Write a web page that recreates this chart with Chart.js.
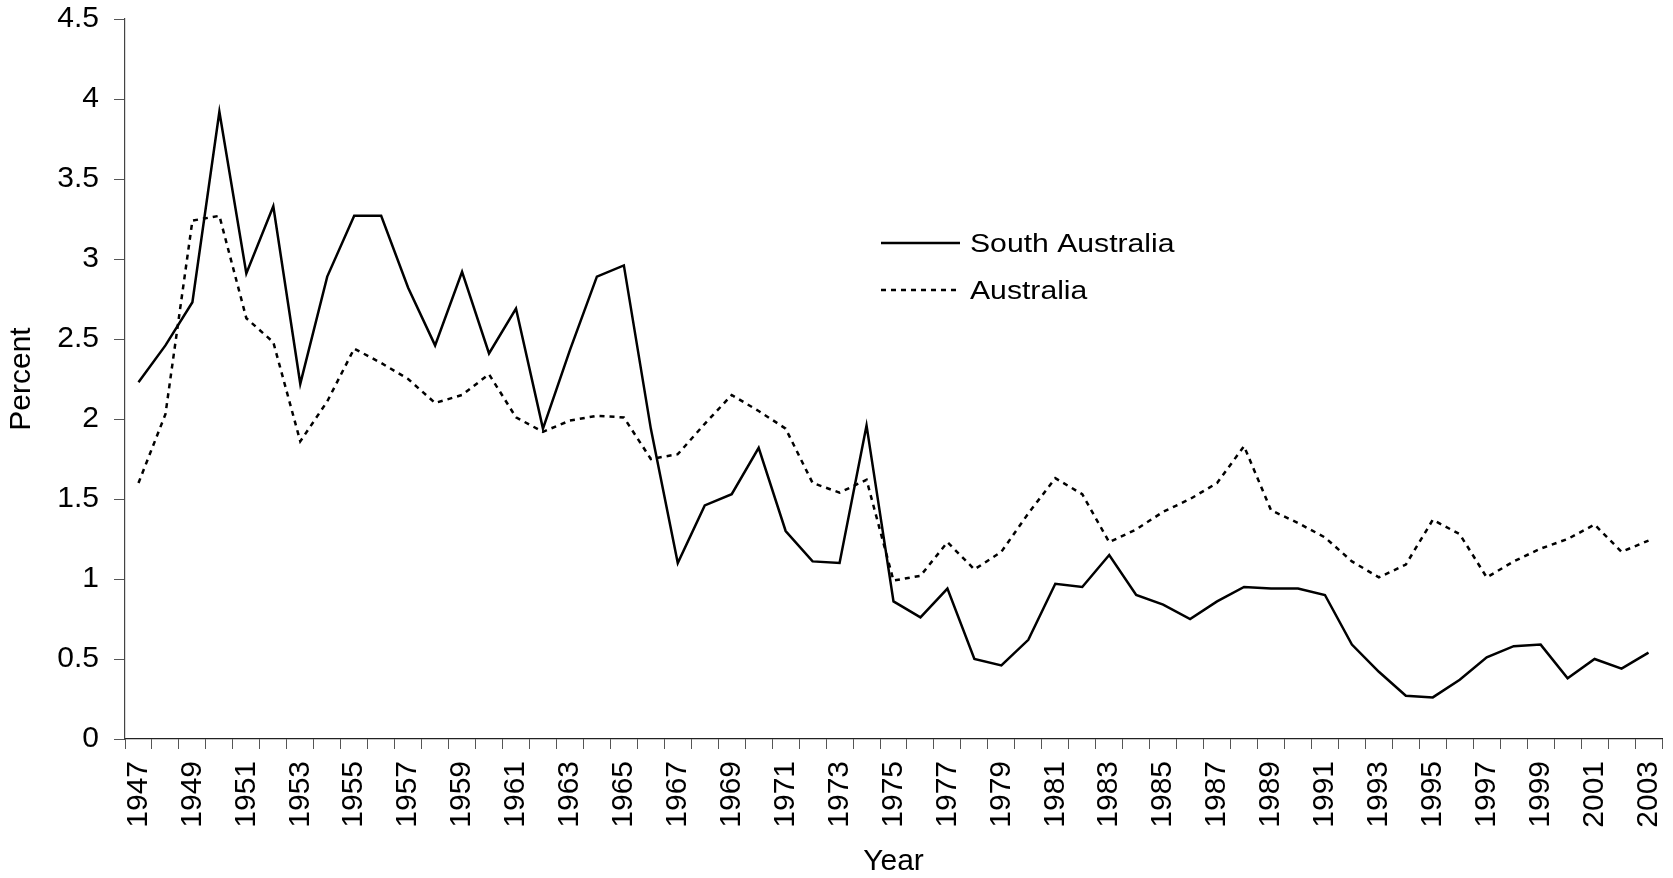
<!DOCTYPE html>
<html>
<head>
<meta charset="utf-8">
<script src="https://cdn.jsdelivr.net/npm/chart.js@4/dist/chart.umd.min.js"></script>
<style>
  html, body { margin: 0; padding: 0; background: #fff; }
  #wrap { width: 1673px; height: 878px; }
</style>
</head>
<body>
<div id="wrap"><canvas id="chart" width="1673" height="878"></canvas></div>
<script>
// years 1947 - 2003
const years = [
  1947, 1948, 1949, 1950, 1951, 1952, 1953, 1954, 1955, 1956,
  1957, 1958, 1959, 1960, 1961, 1962, 1963, 1964, 1965, 1966,
  1967, 1968, 1969, 1970, 1971, 1972, 1973, 1974, 1975, 1976,
  1977, 1978, 1979, 1980, 1981, 1982, 1983, 1984, 1985, 1986,
  1987, 1988, 1989, 1990, 1991, 1992, 1993, 1994, 1995, 1996,
  1997, 1998, 1999, 2000, 2001, 2002, 2003
];

const southAustralia = [
  2.23, 2.46, 2.73, 3.92, 2.91, 3.33, 2.22, 2.89, 3.27, 3.27,
  2.82, 2.46, 2.92, 2.41, 2.69, 1.94, 2.43, 2.89, 2.96, 1.94,
  1.10, 1.46, 1.53, 1.82, 1.30, 1.11, 1.10, 1.96, 0.86, 0.76,
  0.94, 0.50, 0.46, 0.62, 0.97, 0.95, 1.15, 0.90, 0.84, 0.75,
  0.86, 0.95, 0.94, 0.94, 0.90, 0.59, 0.42, 0.27, 0.26, 0.37,
  0.51, 0.58, 0.59, 0.38, 0.50, 0.44, 0.54
];

const australia = [
  1.60, 2.03, 3.24, 3.27, 2.63, 2.48, 1.86, 2.11, 2.44, 2.35,
  2.25, 2.10, 2.15, 2.28, 2.01, 1.92, 1.99, 2.02, 2.01, 1.75,
  1.78, 1.97, 2.15, 2.05, 1.94, 1.60, 1.54, 1.62, 0.99, 1.02,
  1.23, 1.06, 1.17, 1.41, 1.63, 1.53, 1.23, 1.31, 1.42, 1.50,
  1.60, 1.83, 1.43, 1.35, 1.26, 1.11, 1.01, 1.09, 1.37, 1.28,
  1.01, 1.11, 1.19, 1.25, 1.34, 1.17, 1.24
];

const FONT = 'Liberation Sans, Arial, sans-serif';

// legend drawn inside the plot, like the original
const legendInside = {
  id: 'legendInside',
  afterDraw(chart) {
    const ctx = chart.ctx;
    const rows = [{ y: 243 }, { y: 290 }];
    chart.data.datasets.forEach((ds, i) => {
      const y = rows[i].y;
      ctx.save();
      ctx.strokeStyle = ds.borderColor;
      ctx.lineWidth = ds.borderWidth;
      ctx.setLineDash(ds.borderDash || []);
      ctx.beginPath();
      ctx.moveTo(881, y);
      ctx.lineTo(960, y);
      ctx.stroke();
      ctx.restore();

      ctx.save();
      ctx.fillStyle = '#000';
      ctx.font = '26px ' + FONT;
      ctx.textBaseline = 'alphabetic';
      ctx.translate(970, y + 9);
      ctx.scale(1.16, 1);
      ctx.fillText(ds.label, 0, 0);
      ctx.restore();
    });
  }
};

new Chart(document.getElementById('chart'), {
  type: 'line',
  data: {
    labels: years,
    datasets: [
      {
        label: 'South Australia',
        data: southAustralia,
        borderColor: '#000',
        borderWidth: 2.5,
        pointRadius: 0,
        tension: 0,
        fill: false
      },
      {
        label: 'Australia',
        data: australia,
        borderColor: '#000',
        borderWidth: 2.5,
        borderDash: [5, 5],
        pointRadius: 0,
        tension: 0,
        fill: false
      }
    ]
  },
  options: {
    responsive: false,
    animation: false,
    devicePixelRatio: 1,
    layout: { padding: { top: 19, right: 11, bottom: 0, left: 0 } },
    plugins: {
      legend: { display: false },
      tooltip: { enabled: false }
    },
    scales: {
      x: {
        type: 'category',
        offset: true,
        grid: {
          offset: true,
          drawOnChartArea: false,
          drawTicks: true,
          tickLength: 10,
          color: '#555'
        },
        border: { display: true, color: '#222', width: 1.2 },
        ticks: {
          autoSkip: false,
          minRotation: 90,
          maxRotation: 90,
          padding: 12,
          color: '#000',
          font: { family: FONT, size: 30 },
          callback: function (val, i) {
            return i % 2 === 0 ? String(years[i]) : '';
          }
        },
        title: {
          display: true,
          text: 'Year',
          color: '#000',
          font: { family: FONT, size: 30 },
          padding: { top: 0, bottom: -2 }
        },
        afterFit(scale) {
          scale.height = 139;
          scale.paddingLeft = 0;
          scale.paddingRight = 0;
        }
      },
      y: {
        min: 0,
        max: 4.5,
        grid: {
          drawOnChartArea: false,
          drawTicks: true,
          tickLength: 11,
          color: '#555'
        },
        border: { display: true, color: '#444', width: 1.2 },
        ticks: {
          stepSize: 0.5,
          padding: 15,
          color: '#000',
          font: { family: FONT, size: 30 },
          callback: function (val) {
            return String(Math.round(val * 10) / 10);
          }
        },
        title: {
          display: true,
          text: 'Percent',
          color: '#000',
          font: { family: FONT, size: 30 },
          padding: { top: 4, bottom: 0 }
        },
        afterFit(scale) {
          scale.width = 125;
          scale.paddingTop = 0;
          scale.paddingBottom = 0;
        }
      }
    }
  },
  plugins: [legendInside]
});
</script>
</body>
</html>
